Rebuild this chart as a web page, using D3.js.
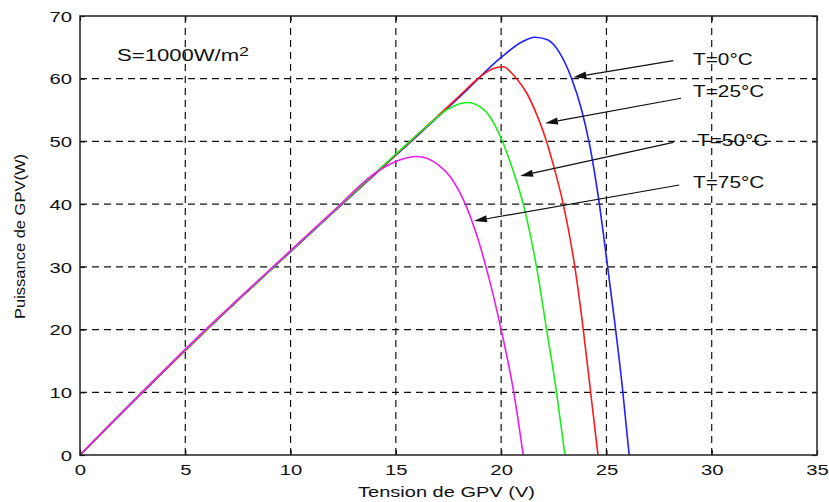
<!DOCTYPE html>
<html>
<head>
<meta charset="utf-8">
<script src="https://cdn.jsdelivr.net/npm/d3@7"></script>
<style>
  html, body { margin: 0; padding: 0; background: #fff; }
  svg { display: block; }
  text { font-family: "Liberation Sans", Arial, Helvetica, sans-serif; fill: #111; }
</style>
</head>
<body>
<svg id="chart" width="829" height="502"></svg>
<script>
// P-V characteristics of the PV generator at S = 1000 W/m², for four cell temperatures
const temperatures = ["T=0°C", "T=25°C", "T=50°C", "T=75°C"];

const voltageT0  = [0, 3, 6, 9, 12, 15, 18, 20, 21, 21.6, 22.2, 22.8, 23.35, 23.8, 24.2, 24.6, 25.0, 25.4, 25.75, 26.08];
const powerT0    = [0, 10.1, 19.9, 29.3, 38.6, 47.8, 57.0, 63.4, 65.9, 66.6, 66.2, 64.0, 60.0, 55.3, 49.5, 41.5, 31.5, 21.0, 11.0, 0];

const voltageT25 = [0, 3, 6, 9, 12, 15, 18, 19, 19.6, 20.1, 20.65, 21.2, 21.7, 22.1, 22.5, 22.95, 23.5, 23.9, 24.25, 24.6];
const powerT25   = [0, 10.1, 19.9, 29.4, 38.7, 47.9, 57.2, 60.3, 61.6, 61.9, 60.3, 57.8, 54.2, 50.6, 46.0, 40.0, 30.0, 20.0, 10.0, 0];

const voltageT50 = [0, 3, 6, 9, 12, 15, 16.5, 17.5, 18.4, 19.2, 20.0, 20.5, 21.05, 21.68, 22.16, 22.63, 23.03];
const powerT50   = [0, 10.2, 20.0, 29.4, 38.7, 48.0, 52.5, 55.2, 56.2, 55.0, 50.5, 46.0, 40.0, 30.0, 20.0, 10.0, 0];

const voltageT75 = [0, 3, 6, 9, 12, 14, 15, 16, 17, 17.6, 18.3, 18.8, 19.28, 20.0, 20.6, 21.05];
const powerT75   = [0, 10.2, 20.1, 29.5, 38.8, 44.9, 46.8, 47.6, 46.3, 44.3, 40.0, 35.5, 30.0, 20.0, 10.0, 0];

const xTicks = [0, 5, 10, 15, 20, 25, 30, 35];
const yTicks = [0, 10, 20, 30, 40, 50, 60, 70];

// annotation anchors, in data units (V, W)
const labelV = [29.11, 29.11, 29.30, 29.11];
const labelP = [62.2, 57.08, 49.27, 42.57];
const arrowFromV = [28.18, 28.54, 28.18, 28.46];
const arrowFromP = [62.87, 56.88, 49.86, 43.05];
const arrowToV = [23.43, 22.08, 20.90, 18.71];
const arrowToP = [60.23, 52.89, 44.49, 37.31];
const irradianceLabel = { v: 1.76, p: 62.83, text: "S=1000W/m", sup: "2" };

const colors = ["#1f1fff", "#ff1a1a", "#1aee1a", "#ee1aee"];

const series = [
  { v: voltageT0,  p: powerT0 },
  { v: voltageT25, p: powerT25 },
  { v: voltageT50, p: powerT50 },
  { v: voltageT75, p: powerT75 }
];

const svg = d3.select("#chart");
const plotLeft = 80, plotRight = 817, plotTop = 16, plotBottom = 455;

const x = d3.scaleLinear().domain([0, 35]).range([plotLeft, plotRight]);
const y = d3.scaleLinear().domain([0, 70]).range([plotBottom, plotTop]);

// grid
const grid = svg.append("g").attr("stroke", "#111").attr("stroke-width", 1.2)
  .attr("stroke-dasharray", "7,5").attr("fill", "none");
grid.selectAll(".gx").data(xTicks.slice(1, -1)).join("line").attr("class", "gx")
  .attr("x1", d => x(d)).attr("x2", d => x(d)).attr("y1", plotTop).attr("y2", plotBottom);
grid.selectAll(".gy").data(yTicks.slice(1, -1)).join("line").attr("class", "gy")
  .attr("y1", d => y(d)).attr("y2", d => y(d)).attr("x1", plotLeft).attr("x2", plotRight);

// curves
const line = d3.line().curve(d3.curveMonotoneX).x(d => x(d[0])).y(d => y(d[1]));
svg.append("g").selectAll("path").data(series).join("path")
  .attr("fill", "none")
  .attr("stroke", (d, i) => colors[i])
  .attr("stroke-width", 1.6)
  .attr("d", d => line(d.v.map((v, k) => [v, d.p[k]])));

// axes
const tickFont = 14, tickStretch = 1.45;
const xAxis = svg.append("g").attr("transform", `translate(0,${plotBottom})`)
  .call(d3.axisBottom(x).tickValues(xTicks).tickSize(-5).tickPadding(0).tickFormat(d3.format("d")));
xAxis.selectAll("text")
  .attr("x", 0).attr("y", 0).attr("dy", null)
  .attr("font-size", tickFont)
  .attr("transform", `translate(0,19.5) scale(${tickStretch},1)`);

const yAxis = svg.append("g").attr("transform", `translate(${plotLeft},0)`)
  .call(d3.axisLeft(y).tickValues(yTicks).tickSize(-5).tickPadding(0).tickFormat(d3.format("d")));
yAxis.selectAll("text")
  .attr("x", 0).attr("y", 0).attr("dy", null)
  .attr("font-size", tickFont)
  .attr("transform", `translate(-8,5.2) scale(${tickStretch},1)`);

// ticks on the top and right edges
svg.append("g").attr("transform", `translate(0,${plotTop})`)
  .call(d3.axisTop(x).tickValues(xTicks).tickSize(-5).tickFormat(""));
svg.append("g").attr("transform", `translate(${plotRight},0)`)
  .call(d3.axisRight(y).tickValues(yTicks).tickSize(-5).tickFormat(""));

svg.selectAll(".domain").remove();
svg.selectAll(".tick line").attr("stroke", "#111").attr("stroke-width", 1.2);

// frame
svg.append("rect").attr("x", plotLeft).attr("y", plotTop)
  .attr("width", plotRight - plotLeft).attr("height", plotBottom - plotTop)
  .attr("fill", "none").attr("stroke", "#222").attr("stroke-width", 1.5);

// axis titles
svg.append("text")
  .attr("text-anchor", "middle").attr("font-size", 15.4)
  .attr("transform", `translate(${(plotLeft + plotRight) / 2 - 2},497) scale(1.3,1)`)
  .text("Tension de GPV (V)");

svg.append("text")
  .attr("text-anchor", "middle").attr("font-size", 14)
  .attr("transform", `translate(25,${(plotTop + plotBottom) / 2 + 1}) rotate(-90) scale(1.18,1)`)
  .text("Puissance de GPV(W)");

// irradiance note
const sLabel = svg.append("text")
  .attr("font-size", 16)
  .attr("transform", `translate(${x(irradianceLabel.v)},${y(irradianceLabel.p)}) scale(1.38,1)`);
sLabel.append("tspan").text(irradianceLabel.text);
sLabel.append("tspan").attr("font-size", 13).attr("dy", -5).text(irradianceLabel.sup);

// temperature annotations with arrows
const ann = svg.append("g");
temperatures.forEach((t, i) => {
  const x1 = x(arrowFromV[i]), y1 = y(arrowFromP[i]);
  const x2 = x(arrowToV[i]), y2 = y(arrowToP[i]);
  const ang = Math.atan2(y2 - y1, x2 - x1);
  const len = 13, half = 3.6;
  const bx = x2 - len * Math.cos(ang), by = y2 - len * Math.sin(ang);
  ann.append("line")
    .attr("x1", x1).attr("y1", y1).attr("x2", bx).attr("y2", by)
    .attr("stroke", "#111").attr("stroke-width", 1.2);
  ann.append("path")
    .attr("d", `M${x2},${y2}L${bx - half * Math.sin(ang)},${by + half * Math.cos(ang)}L${bx + half * Math.sin(ang)},${by - half * Math.cos(ang)}Z`)
    .attr("fill", "#111");
  ann.append("text")
    .attr("font-size", 16)
    .attr("transform", `translate(${x(labelV[i])},${y(labelP[i])}) scale(1.3,1)`)
    .text(t);
});
</script>
</body>
</html>
